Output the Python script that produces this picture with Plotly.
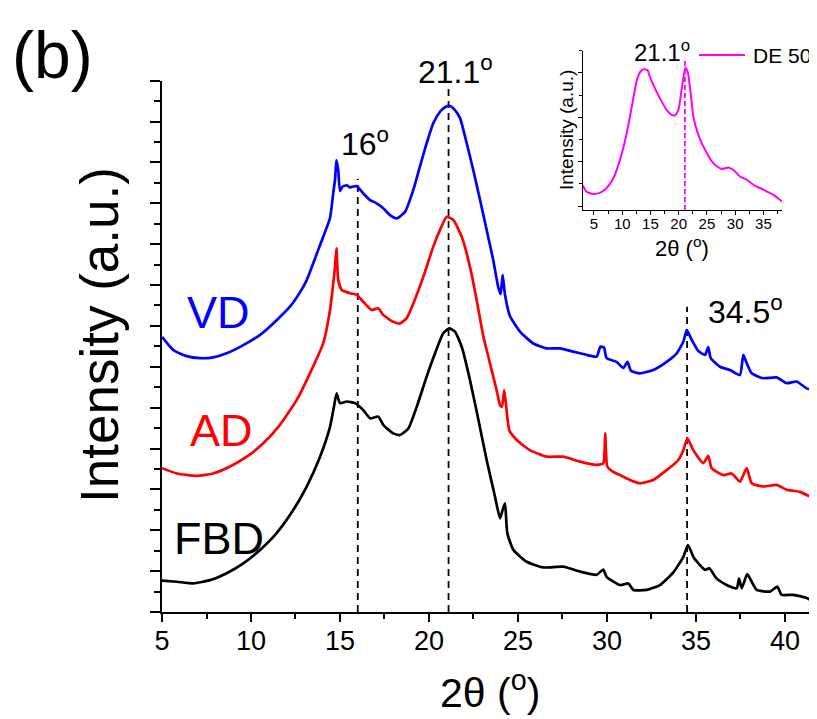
import plotly.graph_objects as go

# ---------------- data ----------------
vd_x = [5.0, 5.63, 6.39, 7.13, 7.88, 8.63, 9.57, 10.51, 11.44, 12.19, 12.75, 13.13, 13.88, 14.44, 14.62, 14.72, 14.80, 14.90, 15.0, 15.15, 15.38, 15.56, 15.75, 15.94, 16.31, 16.69, 17.06, 17.43, 17.81, 18.19, 18.65, 19.12, 19.49, 19.87, 20.24, 20.62, 20.90, 21.18, 21.46, 21.74, 22.12, 22.49, 22.87, 23.24, 23.61, 23.90, 24.03, 24.14, 24.27, 24.55, 25.11, 25.86, 26.61, 27.36, 28.11, 28.86, 29.42, 29.63, 29.83, 29.98, 30.54, 30.92, 31.15, 31.35, 31.85, 32.60, 33.35, 33.92, 34.29, 34.48, 34.76, 35.13, 35.51, 35.69, 35.83, 36.35, 36.91, 37.47, 37.66, 37.85, 38.13, 38.78, 39.53, 40.10, 40.66, 41.22, 41.80]
vd_y = [6.73, 6.41, 6.26, 6.21, 6.23, 6.33, 6.53, 6.78, 7.14, 7.47, 7.82, 8.12, 8.98, 9.64, 10.25, 10.57, 11.06, 10.81, 10.30, 10.41, 10.44, 10.39, 10.41, 10.42, 10.24, 10.08, 10.00, 9.88, 9.71, 9.63, 9.79, 10.33, 10.90, 11.47, 11.96, 12.24, 12.35, 12.38, 12.28, 12.09, 11.47, 10.81, 10.08, 9.35, 8.61, 7.93, 7.78, 8.25, 7.76, 7.24, 6.86, 6.57, 6.45, 6.45, 6.37, 6.29, 6.25, 6.49, 6.47, 6.21, 6.12, 5.97, 6.12, 5.90, 5.84, 5.92, 6.12, 6.33, 6.61, 6.90, 6.66, 6.39, 6.29, 6.48, 6.21, 6.00, 5.92, 5.80, 6.29, 6.09, 5.84, 5.72, 5.74, 5.60, 5.64, 5.47, 5.43]

ad_x = [5.0, 5.83, 6.95, 7.88, 8.82, 9.76, 10.69, 11.63, 12.57, 13.31, 14.06, 14.44, 14.62, 14.72, 14.80, 14.90, 15.10, 15.56, 15.94, 16.31, 16.78, 17.15, 17.43, 17.99, 18.37, 18.75, 19.12, 19.68, 20.24, 20.62, 21.0, 21.37, 21.84, 22.30, 22.68, 23.05, 23.24, 23.80, 23.99, 24.10, 24.23, 24.36, 24.51, 24.93, 25.67, 26.61, 27.54, 28.48, 29.42, 29.79, 29.90, 30.02, 30.35, 30.73, 31.29, 31.85, 32.60, 33.35, 34.01, 34.29, 34.52, 34.85, 35.41, 35.69, 35.88, 36.53, 37.00, 37.47, 37.85, 38.13, 38.78, 39.53, 40.10, 40.84, 41.80]
ad_y = [3.52, 3.39, 3.33, 3.39, 3.56, 3.80, 4.13, 4.58, 5.19, 5.84, 6.58, 7.39, 8.04, 8.45, 8.90, 8.12, 7.88, 7.80, 7.76, 7.59, 7.39, 7.43, 7.27, 7.10, 7.06, 7.19, 7.55, 8.20, 8.94, 9.35, 9.67, 9.59, 9.18, 8.45, 7.63, 6.75, 6.41, 5.43, 5.06, 5.02, 5.43, 4.94, 4.45, 4.21, 3.96, 3.80, 3.80, 3.68, 3.60, 3.64, 4.37, 3.56, 3.43, 3.35, 3.23, 3.15, 3.23, 3.47, 3.72, 3.96, 4.25, 3.96, 3.64, 3.82, 3.52, 3.35, 3.39, 3.19, 3.52, 3.15, 3.07, 3.11, 2.99, 2.94, 2.74]

fbd_x = [5.0, 5.83, 6.76, 7.70, 8.63, 9.57, 10.51, 11.44, 12.38, 13.13, 13.88, 14.44, 14.66, 14.81, 15.0, 15.38, 15.84, 16.31, 16.69, 17.15, 17.43, 17.99, 18.37, 18.84, 19.31, 19.87, 20.34, 20.80, 21.14, 21.46, 21.84, 22.30, 22.78, 23.24, 23.71, 23.99, 24.14, 24.27, 24.40, 24.74, 25.49, 26.42, 27.54, 28.48, 29.42, 29.79, 29.98, 30.73, 31.20, 31.48, 32.23, 32.98, 33.73, 34.29, 34.55, 34.89, 35.51, 35.75, 36.16, 36.72, 37.29, 37.42, 37.57, 37.88, 38.13, 38.41, 39.16, 39.57, 39.81, 40.47, 41.22, 41.80]
fbd_y = [0.77, 0.74, 0.70, 0.78, 0.95, 1.19, 1.52, 1.93, 2.50, 3.07, 3.80, 4.53, 5.02, 5.35, 5.11, 5.15, 5.11, 4.94, 4.74, 4.78, 4.58, 4.37, 4.33, 4.49, 5.02, 5.76, 6.33, 6.82, 6.94, 6.86, 6.49, 5.68, 4.70, 3.72, 2.82, 2.29, 2.50, 2.66, 1.93, 1.52, 1.23, 1.09, 1.11, 0.99, 0.91, 1.04, 0.86, 0.66, 0.70, 0.54, 0.54, 0.66, 0.97, 1.35, 1.64, 1.32, 1.03, 1.07, 0.82, 0.66, 0.58, 0.82, 0.58, 0.93, 0.74, 0.54, 0.50, 0.62, 0.42, 0.42, 0.34, 0.21]

# inset: DE 50
de_x = [3.0, 3.7, 4.9, 6.1, 7.2, 8.4, 9.6, 10.8, 11.7, 12.6, 13.2, 13.8, 14.5, 14.9, 15.8, 16.7, 17.9, 18.8, 19.4, 20.0, 20.6, 21.2, 21.6, 22.2, 22.6, 23.3, 24.1, 25.0, 25.9, 26.8, 27.7, 28.8, 29.7, 30.9, 32.1, 33.3, 34.5, 35.7, 36.8, 38.3]
de_y = [0.47, 0.32, 0.27, 0.30, 0.40, 0.62, 1.04, 1.64, 2.24, 2.84, 3.02, 3.08, 3.06, 2.91, 2.65, 2.42, 2.16, 2.05, 2.05, 2.20, 2.69, 3.12, 3.02, 2.46, 2.01, 1.67, 1.41, 1.19, 1.00, 0.89, 0.83, 0.87, 0.81, 0.66, 0.59, 0.47, 0.40, 0.32, 0.25, 0.10]

series_names = ["VD", "AD", "FBD"]
series_colors = ["#0000FF", "#FF0000", "#000000"]
inset_name = "DE 50"
inset_color = "#FF00FF"

ref_pos = [16.0, 21.1, 34.5]          # dashed reference lines (2theta)
ref_top = [10.6, 12.85, 7.47]
ref_text = ["16<sup>o</sup>", "21.1<sup>o</sup>", "34.5<sup>o</sup>"]
inset_ref_pos = 21.1
inset_ref_top = 3.32

FONT = "Liberation Sans, Arial, sans-serif"

for a, b in [(vd_x, vd_y), (ad_x, ad_y), (fbd_x, fbd_y), (de_x, de_y)]:
    assert len(a) == len(b)

fig = go.Figure()
for xs, ys, name, col in zip([vd_x, ad_x, fbd_x], [vd_y, ad_y, fbd_y], series_names, series_colors):
    fig.add_trace(go.Scatter(x=xs, y=ys, mode="lines", name=name,
                             line=dict(color=col, width=2.7, shape="spline", smoothing=0.5),
                             showlegend=False))

fig.add_trace(go.Scatter(x=de_x, y=de_y, mode="lines", name=inset_name,
                         line=dict(color=inset_color, width=2, shape="spline", smoothing=0.6),
                         xaxis="x2", yaxis="y2", showlegend=False))

shapes = []
for xp, yt in zip(ref_pos, ref_top):
    shapes.append(dict(type="line", xref="x", yref="y", x0=xp, x1=xp, y0=0, y1=yt,
                       line=dict(color="black", width=1.8, dash="7px,5px"), layer="below"))
shapes.append(dict(type="line", xref="x2", yref="y2", x0=inset_ref_pos, x1=inset_ref_pos,
                   y0=-0.09, y1=inset_ref_top,
                   line=dict(color=inset_color, width=1.8, dash="5px,3px")))
# inset legend sample line
shapes.append(dict(type="line", xref="paper", yref="paper", x0=0.8198, x1=0.890, y0=0.991, y1=0.991,
                   line=dict(color=inset_color, width=2)))

ann = []
def A(text, x, y, size, color="black", xref="paper", yref="paper", xanchor="center",
      yanchor="middle", **kw):
    d = dict(text=text, x=x, y=y, xref=xref, yref=yref, showarrow=False,
             xanchor=xanchor, yanchor=yanchor,
             font=dict(family=FONT, size=size, color=color))
    d.update(kw)
    ann.append(d)

A("(b)", -0.232, 0.991, 66, xanchor="left")
A("Intensity (a.u.)", -0.0947, 0.493, 53, textangle=-90)
A("2θ (<sup>o</sup>)", 0.5008, -0.138, 41)
# series labels
A(series_names[0], 8.15, 7.34, 45, color=series_colors[0], xref="x", yref="y")
A(series_names[1], 8.37, 4.45, 45, color=series_colors[1], xref="x", yref="y")
A(series_names[2], 8.23, 1.80, 45, color=series_colors[2], xref="x", yref="y")
# peak labels
A(ref_text[0], (365 - 162) / 655, (612 - 142) / 562, 32)
A(ref_text[1], (455 - 162) / 655, (612 - 70) / 562, 32)
A(ref_text[2], (745 - 162) / 655, (612 - 310) / 562, 32)
# inset texts
A("21.1<sup>o</sup>", (662 - 162) / 655, (612 - 51) / 562, 24)
A(inset_name, (751 - 162) / 655, (612 - 55) / 562, 21, xanchor="left")
A("Intensity (a.u.)", (567 - 162) / 655, (612 - 130) / 562, 19, textangle=-90)
A("2θ (<sup>o</sup>)", (682 - 162) / 655, (612 - 247) / 562, 22)

axis_common = dict(showgrid=False, zeroline=False, showline=True, linecolor="black",
                   ticks="outside", tickcolor="black")

# page body has an 8px margin: figure is drawn 8px in from the window corner
fig.update_layout(
    width=809, height=711,
    margin=dict(l=154, r=0, t=42, b=107),
    paper_bgcolor="white", plot_bgcolor="rgba(0,0,0,0)",
    font=dict(family=FONT, color="black"),
    xaxis=dict(**axis_common, range=[5, 41.8], domain=[0, 1], anchor="y", linewidth=2,
               tick0=5, dtick=5, ticklen=8, tickwidth=2, ticklabelstandoff=-4,
               tickfont=dict(size=27, family=FONT),
               minor=dict(tick0=5, dtick=2.5, ticks="outside", ticklen=5, tickwidth=2,
                          tickcolor="black")),
    yaxis=dict(**axis_common, range=[0, 13], domain=[0, 0.9454], anchor="x", linewidth=2,
               tick0=0, dtick=1, ticklen=10, tickwidth=2, showticklabels=False,
               minor=dict(tick0=0, dtick=0.5, ticks="outside", ticklen=6, tickwidth=2,
                          tickcolor="black")),
    xaxis2=dict(**axis_common, range=[3, 38.3], domain=[0.6423, 0.9466], anchor="y2",
                linewidth=1.2, tick0=5, dtick=5, ticklen=4, tickwidth=1.2, ticklabelstandoff=-4,
                tickfont=dict(size=15, family=FONT),
                minor=dict(tick0=5, dtick=2.5, ticks="outside", ticklen=2.5, tickwidth=1,
                           tickcolor="black")),
    yaxis2=dict(**axis_common, range=[-0.09, 3.5], domain=[0.7153, 0.9988], anchor="x2",
                linewidth=1.2, tick0=0, dtick=1, ticklen=4, tickwidth=1.2,
                showticklabels=False,
                minor=dict(tick0=0, dtick=0.5, ticks="outside", ticklen=2.5, tickwidth=1,
                           tickcolor="black")),
    shapes=shapes,
    annotations=ann,
)

fig.write_html("out.html")
